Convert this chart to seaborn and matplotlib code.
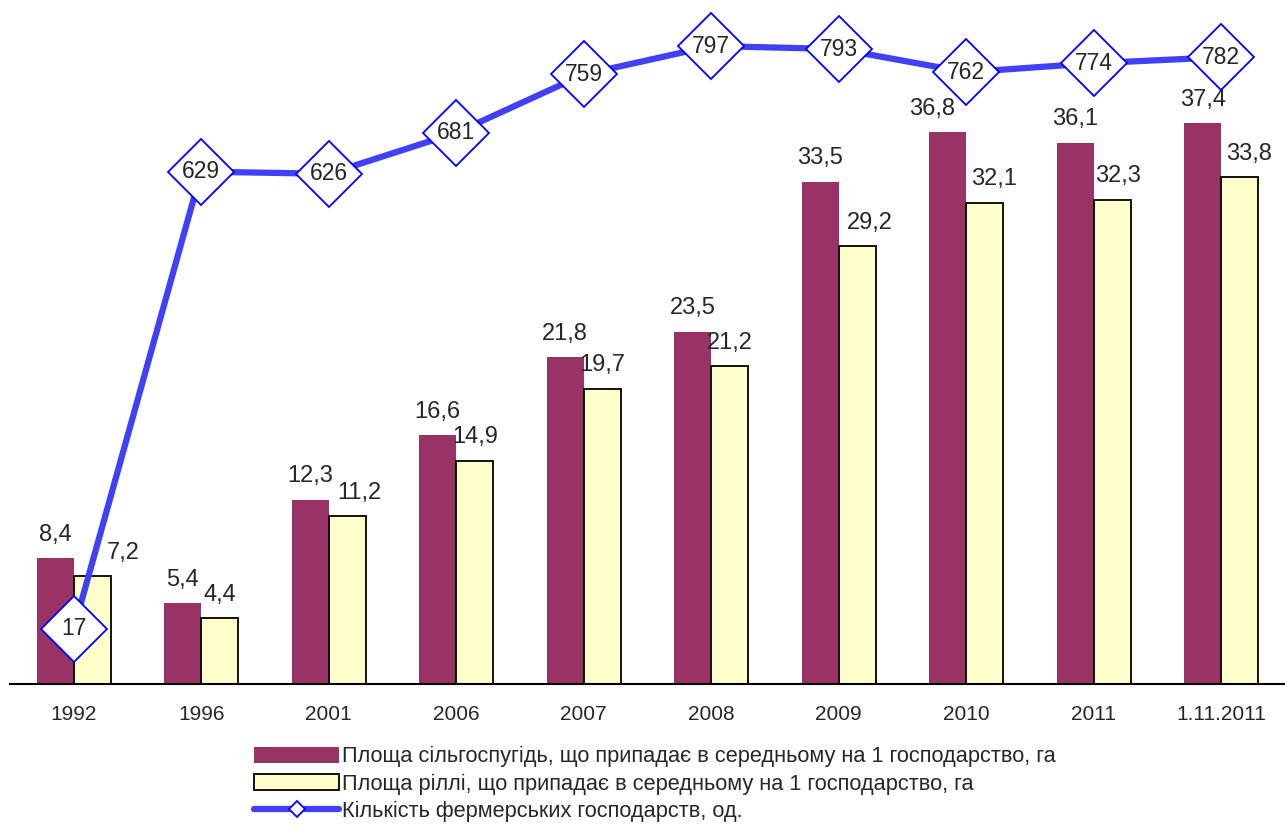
import numpy as np
import pandas as pd
import matplotlib
matplotlib.use('Agg')
import matplotlib.pyplot as plt
from matplotlib.patches import Patch
from matplotlib.lines import Line2D
import seaborn as sns

years = ['1992', '1996', '2001', '2006', '2007', '2008', '2009', '2010', '2011', '1.11.2011']
agri_land = [8.4, 5.4, 12.3, 16.6, 21.8, 23.5, 33.5, 36.8, 36.1, 37.4]
arable_land = [7.2, 4.4, 11.2, 14.9, 19.7, 21.2, 29.2, 32.1, 32.3, 33.8]
farms = [17, 629, 626, 681, 759, 797, 793, 762, 774, 782]

lbl_agri = 'Площа сільгоспугідь, що припадає в середньому на 1 господарство, га'
lbl_arable = 'Площа ріллі, що припадає в середньому на 1 господарство, га'
lbl_farms = 'Кількість фермерських господарств, од.'

sns.set_style('white')
plt.rcParams['font.family'] = ['Liberation Sans', 'DejaVu Sans']

maroon = '#993366'
cream = '#FFFFCC'
blue_line = '#4040F6'

df = pd.DataFrame({'year': years * 2,
                   'value': agri_land + arable_land,
                   'series': ['agri'] * len(years) + ['arable'] * len(years)})

fig = plt.figure(figsize=(12.85, 8.26), dpi=100)
ax = fig.add_axes([10 / 1285, 1 - 684 / 826, 1275 / 1285, 684 / 826])

sns.barplot(data=df, x='year', y='value', hue='series', order=years,
            palette=[maroon, cream], width=0.58, saturation=1, ax=ax, legend=False)

for p in ax.containers[0]:
    p.set_edgecolor('none')
for p in ax.containers[1]:
    p.set_edgecolor('black')
    p.set_linewidth(1.3)

# small sideways nudges (points) so labels don't collide
nudge = {(1, 0): 22, (1, 2): 9, (1, 6): 9, (1, 7): 7, (1, 8): 4, (1, 9): 7, (0, 7): -11}
for i, c in enumerate(ax.containers):
    for j, p in enumerate(c):
        h = p.get_height()
        x = p.get_x() + p.get_width() / 2
        ax.annotate(f'{h:.1f}'.replace('.', ','), (x, h), xytext=(nudge.get((i, j), 0), 12.5),
                    textcoords='offset points', ha='center', va='baseline', fontsize=17)

ax.set_xlim(-0.5, len(years) - 0.5)
ax.set_ylim(0, 45.6)
ax.set_xlabel('')
ax.set_ylabel('')
ax.set_yticks([])
for s in ['top', 'right', 'left']:
    ax.spines[s].set_visible(False)
ax.spines['bottom'].set_linewidth(1.5)
ax.spines['bottom'].set_color('black')
ax.set_xticks(np.arange(len(years)))
ax.set_xticklabels(years, fontsize=15)
ax.tick_params(axis='x', length=0, pad=15)
ax.set_xticks(np.arange(-0.5, len(years)), minor=True)
ax.tick_params(axis='x', which='minor', direction='inout', length=10, width=1.5, color='black')

ax2 = ax.twinx()
ax2.plot(np.arange(len(years)), farms, color=blue_line, lw=4.5, marker='D', markersize=34,
         markerfacecolor='white', markeredgecolor='#0000FF', markeredgewidth=1.3, clip_on=False, zorder=5)
for j, v in enumerate(farms):
    ax2.text(j, v, str(v), ha='center', va='center', fontsize=16.5, zorder=6)
ax2.set_ylim(-56.6, 858.6)
ax2.set_yticks([])
for s in ['top', 'right', 'left', 'bottom']:
    ax2.spines[s].set_visible(False)

handles = [Patch(facecolor=maroon, edgecolor='none'),
           Patch(facecolor=cream, edgecolor='black', linewidth=1.3),
           Line2D([0], [0], color=blue_line, lw=4.5, marker='D', markersize=8,
                  markerfacecolor='white', markeredgecolor='#0000FF', markeredgewidth=1.3)]
fig.legend(handles, [lbl_agri, lbl_arable, lbl_farms], loc='center left',
           bbox_to_anchor=(254 / 1285, 1 - 784 / 826), frameon=False, fontsize=15.7,
           handlelength=3.9, handleheight=0.75, handletextpad=0.15, labelspacing=0.28,
           borderpad=0, borderaxespad=0)

fig.savefig('out.png', dpi=100)
